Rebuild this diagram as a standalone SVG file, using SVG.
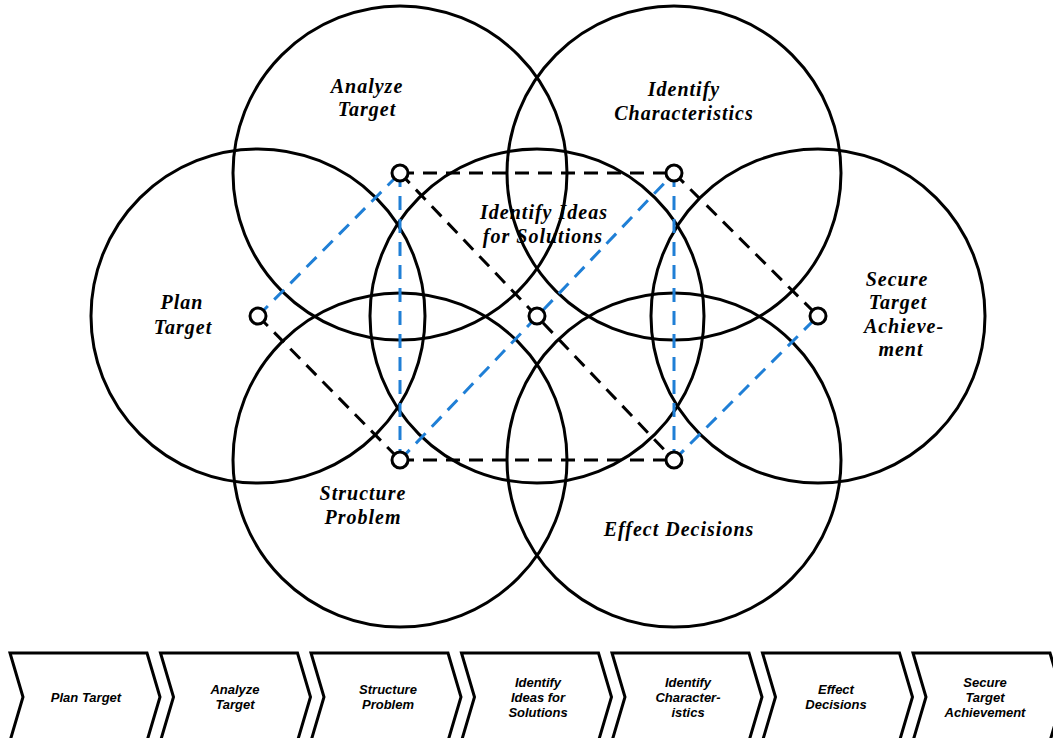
<svg xmlns="http://www.w3.org/2000/svg" width="1053" height="738" viewBox="0 0 1053 738">
<style>
.big{fill:none;stroke:#000;stroke-width:3}
.dk{fill:none;stroke:#000;stroke-width:3;stroke-dasharray:14 9}
.db{fill:none;stroke:#1f7fd6;stroke-width:3;stroke-dasharray:14 9}
.pt{fill:#fff;stroke:#000;stroke-width:3}
.lbl{font-family:"Liberation Serif","DejaVu Serif",serif;font-style:italic;font-weight:bold;font-size:20px;letter-spacing:1px;text-anchor:middle;fill:#000}
.chev{fill:#fff;stroke:#000;stroke-width:3;stroke-linejoin:miter}
.ct{font-family:"Liberation Sans",Arial,sans-serif;font-style:italic;font-weight:bold;font-size:13px;text-anchor:middle;fill:#000}
</style>
<rect width="1053" height="738" fill="#fff"/>
<g id="circles">
<circle id="c-analyze" class="big" cx="400" cy="173" r="167"/>
<circle id="c-characteristics" class="big" cx="674" cy="173" r="167"/>
<circle id="c-plan" class="big" cx="258" cy="316" r="167"/>
<circle id="c-ideas" class="big" cx="537" cy="316" r="167"/>
<circle id="c-secure" class="big" cx="818" cy="316" r="167"/>
<circle id="c-structure" class="big" cx="400" cy="460" r="167"/>
<circle id="c-effect" class="big" cx="674" cy="460" r="167"/>
</g>
<g id="connectors">
<line class="dk" x1="400" y1="173" x2="674" y2="173"/>
<line class="dk" x1="400" y1="460" x2="674" y2="460"/>
<line class="db" x1="400" y1="173" x2="400" y2="460"/>
<line class="db" x1="674" y1="173" x2="674" y2="460"/>
<line class="db" x1="258" y1="316" x2="400" y2="173"/>
<line class="dk" x1="258" y1="316" x2="400" y2="460"/>
<line class="dk" x1="400" y1="173" x2="674" y2="460"/>
<line class="db" x1="400" y1="460" x2="674" y2="173"/>
<line class="dk" x1="674" y1="173" x2="818" y2="316"/>
<line class="db" x1="674" y1="460" x2="818" y2="316"/>
</g>
<g id="points">
<circle class="pt" cx="400" cy="173" r="8"/>
<circle class="pt" cx="674" cy="173" r="8"/>
<circle class="pt" cx="258" cy="316" r="8"/>
<circle class="pt" cx="537" cy="316" r="8"/>
<circle class="pt" cx="818" cy="316" r="8"/>
<circle class="pt" cx="400" cy="460" r="8"/>
<circle class="pt" cx="674" cy="460" r="8"/>
</g>
<g id="labels">
<g id="n-analyze"><text class="lbl" x="367" y="93">Analyze</text><text class="lbl" x="367" y="116">Target</text></g>
<g id="n-characteristics"><text class="lbl" x="684" y="96">Identify</text><text class="lbl" x="684" y="120">Characteristics</text></g>
<g id="n-ideas"><text class="lbl" x="544" y="219">Identify Ideas</text><text class="lbl" x="543" y="243">for Solutions</text></g>
<g id="n-plan"><text class="lbl" x="182" y="309">Plan</text><text class="lbl" x="183" y="334">Target</text></g>
<g id="n-secure"><text class="lbl" x="897" y="286">Secure</text><text class="lbl" x="898" y="309">Target</text><text class="lbl" x="904" y="333">Achieve-</text><text class="lbl" x="901" y="356">ment</text></g>
<g id="n-structure"><text class="lbl" x="363" y="500">Structure</text><text class="lbl" x="363" y="524">Problem</text></g>
<g id="n-effect"><text class="lbl" x="679" y="536">Effect Decisions</text></g>
</g>
<g id="process">
<g id="s1"><path class="chev" d="M10,653 L147,653 L160,697 L147,741 L10,741 L23,697 Z"/><text class="ct" x="86" y="702">Plan Target</text></g>
<g id="s2"><path class="chev" d="M160.5,653 L297.5,653 L310.5,697 L297.5,741 L160.5,741 L173.5,697 Z"/><text class="ct" x="235" y="694">Analyze</text><text class="ct" x="235" y="709">Target</text></g>
<g id="s3"><path class="chev" d="M311,653 L448,653 L461,697 L448,741 L311,741 L324,697 Z"/><text class="ct" x="388" y="694">Structure</text><text class="ct" x="388" y="709">Problem</text></g>
<g id="s4"><path class="chev" d="M461.5,653 L598.5,653 L611.5,697 L598.5,741 L461.5,741 L474.5,697 Z"/><text class="ct" x="538" y="687">Identify</text><text class="ct" x="538" y="702">Ideas for</text><text class="ct" x="538" y="717">Solutions</text></g>
<g id="s5"><path class="chev" d="M612,653 L749,653 L762,697 L749,741 L612,741 L625,697 Z"/><text class="ct" x="688" y="687">Identify</text><text class="ct" x="688" y="702">Character-</text><text class="ct" x="688" y="717">istics</text></g>
<g id="s6"><path class="chev" d="M762.5,653 L899.5,653 L912.5,697 L899.5,741 L762.5,741 L775.5,697 Z"/><text class="ct" x="836" y="694">Effect</text><text class="ct" x="836" y="709">Decisions</text></g>
<g id="s7"><path class="chev" d="M913,653 L1050,653 L1063,697 L1050,741 L913,741 L926,697 Z"/><text class="ct" x="985" y="687">Secure</text><text class="ct" x="985" y="702">Target</text><text class="ct" x="985" y="717">Achievement</text></g>
</g>
</svg>
